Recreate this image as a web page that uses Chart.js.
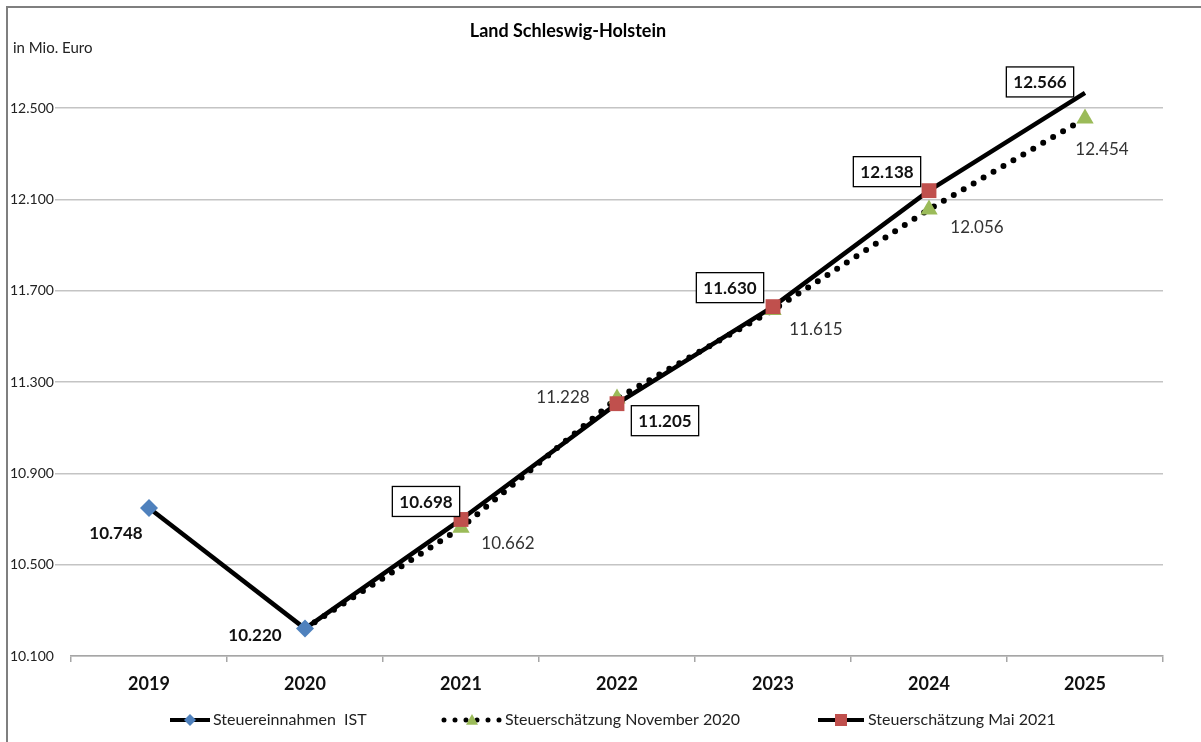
<!DOCTYPE html>
<html>
<head>
<meta charset="utf-8">
<script src="https://cdn.jsdelivr.net/npm/chart.js@4"></script>
<style>
  html, body { margin: 0; padding: 0; background: #fff; }
  canvas { display: block; }
</style>
</head>
<body>
<canvas id="chart" width="1201" height="742"></canvas>
<script>
const years = ["2019", "2020", "2021", "2022", "2023", "2024", "2025"];
const istValues = [10748, 10220, null, null, null, null, null];
const nov2020Values = [null, 10220, 10662, 11228, 11615, 12056, 12454];
const mai2021Values = [null, 10220, 10698, 11205, 11630, 12138, 12566];
const yTicks = [10100, 10500, 10900, 11300, 11700, 12100, 12500];

const FONT = "Lato, 'Open Sans', sans-serif";

// label placement relative to its point (dx, dy), by year index
const labelOffsets = {
  ist: { 0: [-33, 24], 1: [-50, 6] },
  nov: { 2: [47, 15], 3: [-54, -2], 4: [43, 18], 5: [48, 17], 6: [17, 30] },
  mai: { 2: [-35, -18], 3: [48, 17], 4: [-43, -19], 5: [-42, -19], 6: [-45, -11] }
};

function fmt(v) {
  return Number(v).toLocaleString("de-DE");
}

const framePlugin = {
  id: "frame",
  beforeDraw(chart) {
    const { ctx } = chart;
    ctx.save();
    ctx.fillStyle = "#fff";
    ctx.fillRect(0, 0, chart.width, chart.height);
    ctx.strokeStyle = "#7f7f7f";
    ctx.lineWidth = 2;
    ctx.beginPath();
    ctx.moveTo(7, chart.height);
    ctx.lineTo(7, 7);
    ctx.lineTo(chart.width, 7);
    ctx.stroke();
    ctx.fillStyle = "#000";
    ctx.font = "bold 18px " + FONT;
    ctx.textAlign = "center";
    ctx.textBaseline = "middle";
    ctx.fillText("Land Schleswig-Holstein", 568, 31);
    ctx.font = "15px " + FONT;
    ctx.textAlign = "left";
    ctx.fillStyle = "#222";
    ctx.fillText("in Mio. Euro", 13, 48);
    ctx.restore();
  }
};

function drawMarker(ctx, style, x, y, r, color) {
  ctx.save();
  ctx.fillStyle = color;
  ctx.beginPath();
  if (style === "diamond") {
    ctx.moveTo(x, y - r); ctx.lineTo(x + r, y); ctx.lineTo(x, y + r); ctx.lineTo(x - r, y);
  } else if (style === "triangle") {
    ctx.moveTo(x, y - r); ctx.lineTo(x + r, y + r * 0.8); ctx.lineTo(x - r, y + r * 0.8);
  } else {
    ctx.rect(x - r, y - r, 2 * r, 2 * r);
  }
  ctx.closePath();
  ctx.fill();
  ctx.restore();
}

const labelsPlugin = {
  id: "valueLabels",
  afterDatasetsDraw(chart) {
    const { ctx } = chart;
    const groups = [
      { key: "ist", ds: 0, font: "bold 17px " + FONT, box: false },
      { key: "nov", ds: 1, font: "17px " + FONT, box: false },
      { key: "mai", ds: 2, font: "bold 17px " + FONT, box: true }
    ];
    ctx.save();
    ctx.textAlign = "center";
    ctx.textBaseline = "middle";
    groups.forEach((g) => {
      const meta = chart.getDatasetMeta(g.ds);
      const values = chart.data.datasets[g.ds].data;
      Object.entries(labelOffsets[g.key]).forEach(([idx, [dx, dy]]) => {
        const pt = meta.data[idx];
        const x = pt.x + dx;
        const y = pt.y + dy;
        const text = fmt(values[idx]);
        ctx.font = g.font;
        if (g.box) {
          const w = ctx.measureText(text).width + 14;
          ctx.fillStyle = "#fff";
          ctx.fillRect(x - w / 2, y - 15, w, 30);
          ctx.strokeStyle = "#000";
          ctx.lineWidth = 1.3;
          ctx.strokeRect(x - w / 2, y - 15, w, 30);
        }
        ctx.fillStyle = g.key === "nov" ? "#333" : "#111";
        ctx.fillText(text, x, y + 1);
      });
    });
    ctx.restore();
  }
};

const legendPlugin = {
  id: "lineLegend",
  afterDraw(chart) {
    const { ctx } = chart;
    const y = 720;
    ctx.save();
    ctx.strokeStyle = "#000";
    ctx.lineCap = "butt";
    ctx.lineWidth = 4;
    ctx.beginPath(); ctx.moveTo(170, y); ctx.lineTo(210, y); ctx.stroke();
    drawMarker(ctx, "diamond", 190, y, 6, "#4f81bd");

    ctx.lineWidth = 5;
    ctx.lineCap = "round";
    ctx.setLineDash([0, 11]);
    ctx.beginPath(); ctx.moveTo(444, y); ctx.lineTo(500, y); ctx.stroke();
    ctx.setLineDash([]);
    drawMarker(ctx, "triangle", 472, y, 6, "#9bbb59");

    ctx.lineCap = "butt";
    ctx.lineWidth = 4;
    ctx.beginPath(); ctx.moveTo(818, y); ctx.lineTo(864, y); ctx.stroke();
    drawMarker(ctx, "square", 841, y, 6, "#c0504d");

    ctx.fillStyle = "#222";
    ctx.font = "16px " + FONT;
    ctx.textAlign = "left";
    ctx.textBaseline = "middle";
    ctx.fillText("Steuereinnahmen  IST", 213, y);
    ctx.fillText("Steuerschätzung November 2020", 505, y);
    ctx.fillText("Steuerschätzung Mai 2021", 868, y);
    ctx.restore();
  }
};

new Chart(document.getElementById("chart"), {
  type: "line",
  data: {
    labels: years,
    datasets: [
      {
        label: "Steuereinnahmen  IST",
        data: istValues,
        borderColor: "#000",
        borderWidth: 4.5,
        pointStyle: "rectRot",
        pointRadius: 9,
        pointBackgroundColor: "#4f81bd",
        pointBorderWidth: 0,
        order: 0,
        clip: false
      },
      {
        label: "Steuerschätzung November 2020",
        data: nov2020Values,
        borderColor: "#000",
        borderWidth: 6,
        borderDash: [0, 11.5],
        borderCapStyle: "round",
        pointStyle: "triangle",
        pointRadius: (c) => (c.dataIndex === 1 ? 0 : 10),
        pointBackgroundColor: "#9bbb59",
        pointBorderWidth: 0,
        order: 2,
        clip: false
      },
      {
        label: "Steuerschätzung Mai 2021",
        data: mai2021Values,
        borderColor: "#000",
        borderWidth: 4.5,
        pointStyle: "rect",
        pointRadius: (c) => (c.dataIndex === 1 ? 0 : 10.5),
        pointBackgroundColor: "#c0504d",
        pointBorderWidth: 0,
        order: 1,
        clip: false
      }
    ]
  },
  options: {
    responsive: false,
    animation: false,
    layout: { padding: { left: 10, top: 108, right: 38, bottom: 0 } },
    plugins: {
      legend: { display: false },
      title: { display: false },
      tooltip: { enabled: false }
    },
    scales: {
      x: {
        offset: true,
        afterFit: (scale) => { scale.height = 86; },
        grid: {
          offset: true,
          drawOnChartArea: false,
          drawTicks: true,
          tickLength: 6,
          color: "#a6a6a6",
          lineWidth: 1.5
        },
        border: { color: "#a6a6a6", width: 1.5 },
        ticks: {
          padding: 11,
          color: "#111",
          font: { family: FONT, size: 18, weight: "bold" }
        }
      },
      y: {
        min: yTicks[0],
        max: yTicks[yTicks.length - 1],
        afterFit: (scale) => { scale.width = 61; },
        afterBuildTicks: (scale) => { scale.ticks = yTicks.map((v) => ({ value: v })); },
        border: { display: false },
        grid: {
          color: "#c4c4c4",
          lineWidth: 1.5,
          tickLength: 16,
          tickColor: (c) => (c.tick && c.tick.value === yTicks[0] ? "rgba(0,0,0,0)" : "#c4c4c4")
        },
        ticks: {
          crossAlign: "far",
          color: "#222",
          font: { family: FONT, size: 14 },
          callback: (v) => fmt(v)
        }
      }
    }
  },
  plugins: [framePlugin, labelsPlugin, legendPlugin]
});
</script>
</body>
</html>
